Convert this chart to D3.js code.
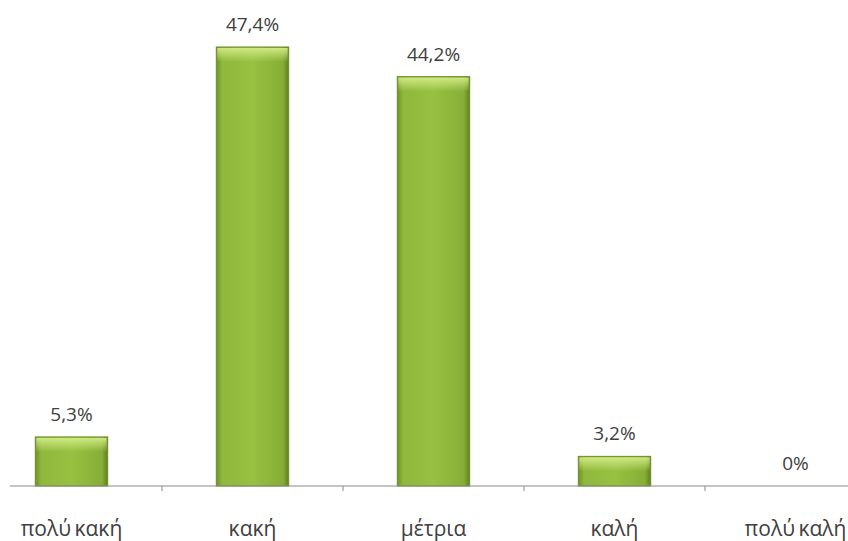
<!DOCTYPE html>
<html>
<head>
<meta charset="utf-8">
<script src="https://cdn.jsdelivr.net/npm/d3@7"></script>
<style>
  html, body { margin: 0; padding: 0; background: #fff; }
  svg { display: block; }
  text { font-family: "Open Sans", "DejaVu Sans", sans-serif; fill: #404040; }
</style>
</head>
<body>
<svg id="chart" width="848" height="541"></svg>
<script>
const categories = ["πολύ κακή", "κακή", "μέτρια", "καλή", "πολύ καλή"];
const values = [5.3, 47.4, 44.2, 3.2, 0];
const valueLabels = ["5,3%", "47,4%", "44,2%", "3,2%", "0%"];

const W = 848, H = 541;
const baseY = 486;
const svg = d3.select("#chart");

const x = d3.scaleBand().domain(categories).range([-19, 886]).paddingInner(0.6).paddingOuter(0.3);
const y = d3.scaleLinear().domain([0, 47.4]).range([baseY, 47]);

const defs = svg.append("defs");
const hg = defs.append("linearGradient").attr("id", "barH").attr("x1", 0).attr("x2", 1).attr("y1", 0).attr("y2", 0);
hg.append("stop").attr("offset", "0%").attr("stop-color", "#6e9226");
hg.append("stop").attr("offset", "8%").attr("stop-color", "#8fb83c");
hg.append("stop").attr("offset", "50%").attr("stop-color", "#97c141");
hg.append("stop").attr("offset", "92%").attr("stop-color", "#86ae36");
hg.append("stop").attr("offset", "100%").attr("stop-color", "#607f20");

const vg = defs.append("linearGradient").attr("id", "barTop").attr("x1", 0).attr("x2", 0).attr("y1", 0).attr("y2", 1);
vg.append("stop").attr("offset", "0%").attr("stop-color", "#d6ee8a").attr("stop-opacity", 0.9);
vg.append("stop").attr("offset", "100%").attr("stop-color", "#d6ee8a").attr("stop-opacity", 0);

const bars = svg.append("g").selectAll("g").data(categories).join("g");
bars.append("rect")
  .attr("x", d => x(d))
  .attr("y", (d, i) => y(values[i]))
  .attr("width", x.bandwidth())
  .attr("height", (d, i) => baseY - y(values[i]))
  .attr("fill", "url(#barH)")
  .attr("stroke", "#6b8c2a")
  .attr("stroke-width", 1);
bars.append("rect")
  .attr("x", d => x(d) + 1)
  .attr("y", (d, i) => y(values[i]) + 1)
  .attr("width", x.bandwidth() - 2)
  .attr("height", (d, i) => Math.min(14, Math.max(0, baseY - y(values[i]) - 2)))
  .attr("fill", "url(#barTop)");

// value labels
svg.append("g").selectAll("text").data(categories).join("text")
  .attr("x", d => x(d) + x.bandwidth() / 2)
  .attr("y", (d, i) => y(values[i]) - 16)
  .attr("text-anchor", "middle")
  .attr("font-size", 19)
  .text((d, i) => valueLabels[i]);

// category axis
const ax = svg.append("g").attr("transform", `translate(0,${baseY})`);
ax.append("line").attr("x1", 10).attr("x2", W).attr("y1", 0).attr("y2", 0)
  .attr("stroke", "#8a8a8a").attr("stroke-width", 1);

const step = x.step();
const bounds = d3.range(1, categories.length).map(i => x(categories[i]) - x.paddingInner() * step / 2);
ax.selectAll(".tick-mark").data(bounds).join("line")
  .attr("x1", d => d).attr("x2", d => d).attr("y1", 0).attr("y2", 5)
  .attr("stroke", "#8a8a8a");

ax.selectAll(".cat").data(categories).join("text")
  .attr("x", d => x(d) + x.bandwidth() / 2)
  .attr("y", 50)
  .attr("text-anchor", "middle")
  .attr("font-size", 21)
  .attr("word-spacing", -2)
  .text(d => d);
</script>
</body>
</html>
